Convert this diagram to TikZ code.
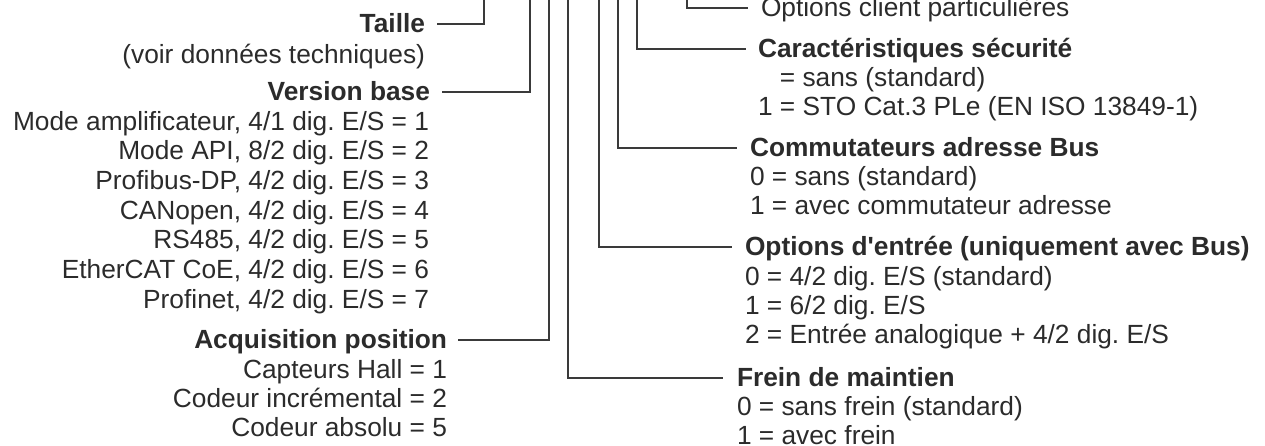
\documentclass[tikz,border=0pt]{standalone}
\usepackage{fontspec}
\setmainfont{Liberation Sans}
\definecolor{txt}{HTML}{2B2B2B}
\definecolor{ln}{HTML}{3A3A3A}
\frenchspacing
\begin{document}
\begin{tikzpicture}[x=1pt,y=-1pt,
  every node/.style={inner sep=0pt, outer sep=0pt, text=txt, font=\fontsize{26.3}{29}\selectfont},
  hd/.style={font=\fontsize{26.3}{29}\selectfont\bfseries, text height=19pt, text depth=3pt},
  ht/.style={text height=19pt, text depth=3pt},
  lft/.style={anchor=base east},
  rgt/.style={anchor=base west},
  conn/.style={draw=ln, line width=1.3pt}]
\useasboundingbox (0,0) rectangle (1265,445);

% ---------- left block ----------
\node[hd,lft] (tai) at (425,32) {Taille};
\node[lft] (taiv) at (425,63) {(voir données techniques)};
\node[hd,lft] (ver) at (430,100) {Version base};
\node[lft] (m1) at (429,130) {Mode amplificateur, 4/1 dig. E/S = 1};
\node[lft] (m2) at (429,159.7) {Mode API, 8/2 dig. E/S = 2};
\node[lft] (m3) at (429,189.3) {Profibus-DP, 4/2 dig. E/S = 3};
\node[lft] (m4) at (429,219) {CANopen, 4/2 dig. E/S = 4};
\node[lft] (m5) at (429,248.7) {RS485, 4/2 dig. E/S = 5};
\node[lft] (m6) at (429,278.3) {EtherCAT CoE, 4/2 dig. E/S = 6};
\node[lft] (m7) at (429,308) {Profinet, 4/2 dig. E/S = 7};
\node[hd,lft] (acq) at (447,348) {Acquisition position};
\node[lft] (a1) at (447,378) {Capteurs Hall = 1};
\node[lft] (a2) at (447,407) {Codeur incrémental = 2};
\node[lft] (a5) at (447,436) {Codeur absolu = 5};

% ---------- right block ----------
\node[ht,rgt] (optc) at (761,16) {Options client particulières};
\node[hd,rgt] (car) at (758,57) {Caractéristiques sécurité};
\node[rgt] (car0) at (758,86) {\hphantom{1} = sans (standard)};
\node[rgt] (car1) at (758,115) {1 = STO Cat.3 PLe (EN ISO 13849-1)};
\node[hd,rgt] (com) at (750,156) {Commutateurs adresse Bus};
\node[rgt] (com0) at (750,185) {0 = sans (standard)};
\node[rgt] (com1) at (750,214) {1 = avec commutateur adresse};
\node[hd,rgt] (opt) at (745,255) {Options d\textquotesingle entrée (uniquement avec Bus)};
\node[rgt] (opt0) at (745,285) {0 = 4/2 dig. E/S (standard)};
\node[rgt] (opt1) at (745,314) {1 = 6/2 dig. E/S};
\node[rgt] (opt2) at (745,343) {2 = Entrée analogique + 4/2 dig. E/S};
\node[hd,rgt] (fre) at (737,386) {Frein de maintien};
\node[rgt] (fre0) at (737,415) {0 = sans frein (standard)};
\node[rgt] (fre1) at (737,444) {1 = avec frein};

% ---------- top ends of the connectors ----------
\coordinate (ctai) at (484,0);
\coordinate (cver) at (530,0);
\coordinate (cacq) at (549,0);
\coordinate (cfre) at (568,0);
\coordinate (copt) at (599,0);
\coordinate (ccom) at (618,0);
\coordinate (ccar) at (637,0);
\coordinate (coptc) at (687,0);

% ---------- connectors ----------
\draw[conn] ([xshift=12pt]tai.east) -| (ctai);
\draw[conn] ([xshift=12pt]ver.east) -| (cver);
\draw[conn] ([xshift=11pt]acq.east) -| (cacq);
\draw[conn] (cfre) |- ([xshift=-14pt]fre.west);
\draw[conn] (copt) |- ([xshift=-13pt]opt.west);
\draw[conn] (ccom) |- ([xshift=-13pt]com.west);
\draw[conn] (ccar) |- ([xshift=-12pt]car.west);
\draw[conn] (coptc) |- ([xshift=-13pt]optc.west);
\end{tikzpicture}
\end{document}
